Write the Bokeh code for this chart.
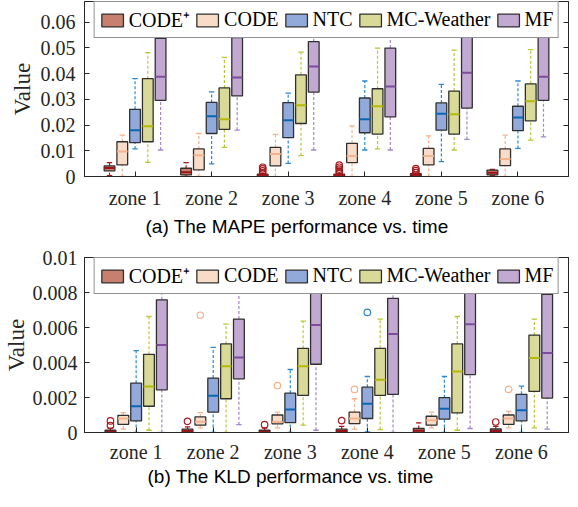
from bokeh.plotting import figure
from bokeh.models import (ColumnDataSource, FixedTicker, LinearAxis, Legend,
                          LegendItem, Range1d, Title)
from bokeh.layouts import column
from bokeh.embed import file_html
from bokeh.resources import INLINE

# ---------------- data ----------------
methods = ["CODE\u207A", "CODE", "NTC", "MC-Weather", "MF"]
zones = [1, 2, 3, 4, 5, 6]
zone_labels = ["zone 1", "zone 2", "zone 3", "zone 4", "zone 5", "zone 6"]

# (a) MAPE  -- rows: CODE+, CODE, NTC, MC-Weather, MF ; columns: zone 1..6
mape_lo = [[0.0003, 0.0, 0.0, 0.0, 0.0, 0.0004],
           [0.0, 0.0, 0.0, 0.0, 0.0, 0.0],
           [0.0107, 0.0049, 0.0051, 0.0103, 0.0058, 0.0109],
           [0.0055, 0.0113, 0.0081, 0.0107, 0.0103, 0.0141],
           [0.0103, 0.0180, 0.0103, 0.0103, 0.0144, 0.0154]]
mape_q1 = [[0.0022, 0.0006, 0.0003, 0.0003, 0.0003, 0.0006],
           [0.0045, 0.0026, 0.0041, 0.0054, 0.0045, 0.0042],
           [0.0132, 0.0167, 0.0151, 0.0170, 0.0180, 0.0178],
           [0.0135, 0.0183, 0.0206, 0.0165, 0.0165, 0.0216],
           [0.0296, 0.0313, 0.0328, 0.0232, 0.0266, 0.0296]]
mape_med = [[0.0033, 0.0017, 0.0006, 0.0006, 0.0008, 0.0015],
            [0.0097, 0.0083, 0.0087, 0.0080, 0.0080, 0.0068],
            [0.0180, 0.0234, 0.0219, 0.0222, 0.0244, 0.0229],
            [0.0195, 0.0222, 0.0277, 0.0273, 0.0242, 0.0292],
            [0.0388, 0.0385, 0.0427, 0.0350, 0.0403, 0.0388]]
mape_q3 = [[0.0041, 0.0032, 0.0009, 0.0009, 0.0011, 0.0025],
           [0.0135, 0.0107, 0.0113, 0.0129, 0.0109, 0.0107],
           [0.0261, 0.0288, 0.0287, 0.0305, 0.0286, 0.0273],
           [0.0380, 0.0344, 0.0395, 0.0341, 0.0332, 0.0360],
           [0.0537, 0.0540, 0.0524, 0.0499, 0.0547, 0.0547]]
mape_hi = [[0.0054, 0.0054, 0.0012, 0.0012, 0.0014, 0.0028],
           [0.0161, 0.0167, 0.0164, 0.0197, 0.0158, 0.0161],
           [0.0380, 0.0329, 0.0324, 0.0371, 0.0358, 0.0371],
           [0.0481, 0.0463, 0.0483, 0.0499, 0.0491, 0.0493],
           [0.0640, 0.0630, 0.0620, 0.0630, 0.0640, 0.0630]]
mape_out_method = [0, 0, 0, 0, 0, 0, 0, 0, 0, 0, 0, 0]
mape_out_zone = [3, 3, 3, 3, 4, 4, 4, 4, 4, 5, 5, 5]
mape_out_value = [0.0014, 0.0022, 0.0030, 0.0036,
                  0.0014, 0.0021, 0.0029, 0.0036, 0.0044,
                  0.0015, 0.0023, 0.0031]
mape_yticks = [0, 0.01, 0.02, 0.03, 0.04, 0.05, 0.06]
mape_ytick_labels = ["0", "0.01", "0.02", "0.03", "0.04", "0.05", "0.06"]
mape_ymax = 0.068

# (b) KLD
kld_lo = [[0.0, 0.0, 0.0, 0.0, 0.0, 0.0],
          [0.00019, 0.00027, 0.00027, 0.00019, 0.00027, 0.00027],
          [0.0, 0.0, 0.0, 0.00004, 0.0, 0.0],
          [0.00013, 0.0, 0.00042, 0.00017, 0.00013, 0.00027],
          [0.0, 0.00045, 0.00013, 0.0, 0.00023, 0.00019]]
kld_q1 = [[0.0, 0.0, 0.0, 0.0, 0.0, 0.0],
          [0.00047, 0.00042, 0.00049, 0.00051, 0.00042, 0.00047],
          [0.00066, 0.00117, 0.00057, 0.00080, 0.00076, 0.00066],
          [0.00150, 0.00193, 0.00212, 0.00212, 0.00112, 0.00235],
          [0.00244, 0.00307, 0.00390, 0.00218, 0.00331, 0.00197]]
kld_med = [[0.00004, 0.00008, 0.00005, 0.00008, 0.00010, 0.00008],
           [0.00080, 0.00061, 0.00060, 0.00080, 0.00070, 0.00080],
           [0.00150, 0.00210, 0.00131, 0.00165, 0.00136, 0.00127],
           [0.00263, 0.00379, 0.00379, 0.00301, 0.00348, 0.00426],
           [0.00500, 0.00428, 0.00614, 0.00563, 0.00619, 0.00455]]
kld_q3 = [[0.00013, 0.00019, 0.00013, 0.00019, 0.00023, 0.00020],
          [0.00098, 0.00089, 0.00100, 0.00117, 0.00093, 0.00100],
          [0.00282, 0.00311, 0.00225, 0.00259, 0.00199, 0.00218],
          [0.00447, 0.00506, 0.00481, 0.00481, 0.00506, 0.00557],
          [0.00758, 0.00648, 0.00813, 0.00767, 0.00828, 0.00790]]
kld_hi = [[0.00025, 0.00032, 0.00025, 0.00035, 0.00055, 0.00035],
          [0.00114, 0.00114, 0.00117, 0.00193, 0.00117, 0.00121],
          [0.00468, 0.00487, 0.00360, 0.00320, 0.00320, 0.00265],
          [0.00663, 0.00619, 0.00636, 0.00648, 0.00663, 0.00648],
          [0.00960, 0.00920, 0.00990, 0.00970, 0.00990, 0.00980]]
kld_out_method = [0, 0, 0, 0, 0, 0, 1, 1, 1, 1, 1, 2]
kld_out_zone = [1, 1, 2, 3, 4, 6, 2, 3, 4, 6, 6, 4]
kld_out_value = [0.00040, 0.00066, 0.00064, 0.00045, 0.00068, 0.00060,
                 0.00670, 0.00268, 0.00246, 0.00246, 0.00828, 0.00686]
kld_yticks = [0, 0.002, 0.004, 0.006, 0.008, 0.01]
kld_ytick_labels = ["0", "0.002", "0.004", "0.006", "0.008", "0.01"]
kld_ymax = 0.01

# ---------------- style ----------------
fill_colors = ["#C8806E", "#F8DCC8", "#92AADB", "#D9DA97", "#C1A9D2"]
median_colors = ["#9A1418", "#F2B48E", "#0B66B2", "#B4B90A", "#7B4D9B"]
whisker_colors = ["#A8181D", "#F4B28C", "#2C8AD2", "#B9C83A", "#A487C6"]
offsets = [-1 / 3, -1 / 6, 0.0, 1 / 6, 1 / 3]
BOX_W = 0.14
CAP_W = 0.07
AX = "#262626"
SERIF = "Liberation Serif"


def make_fig(lo, q1, med, q3, hi, om, oz, ov, yticks, ylabels, ymax,
             xr, caption, frame_h, b_left, b_right, b_top, b_bottom,
             tick_standoff, ylab_standoff, x_standoff,
             cap_offset, cap_standoff):
    p = figure(width=570, frame_height=frame_h, x_range=Range1d(*xr),
               y_range=Range1d(0, ymax), output_backend="svg",
               toolbar_location=None, min_border_left=b_left,
               min_border_right=b_right, min_border_top=b_top,
               min_border_bottom=b_bottom)
    p.xgrid.visible = False
    p.ygrid.visible = False
    p.outline_line_color = AX
    p.outline_line_width = 1
    p.background_fill_color = "white"
    p.border_fill_color = "white"

    # axes
    p.xaxis.ticker = FixedTicker(ticks=zones)
    p.xaxis.major_label_overrides = {z: lab for z, lab in zip(zones, zone_labels)}
    p.yaxis.ticker = FixedTicker(ticks=yticks)
    p.yaxis.major_label_overrides = {t: lab for t, lab in zip(yticks, ylabels)}
    for ax in (p.xaxis[0], p.yaxis[0]):
        ax.major_tick_in = 5
        ax.major_tick_out = 0
        ax.minor_tick_line_color = None
        ax.axis_line_color = AX
        ax.major_tick_line_color = AX
        ax.major_label_text_font = SERIF
        ax.major_label_text_font_size = "20px"
        ax.major_label_text_color = AX
    p.xaxis.major_label_standoff = x_standoff
    p.yaxis.major_label_standoff = tick_standoff
    p.yaxis.axis_label = "Value"
    p.yaxis.axis_label_text_font = SERIF
    p.yaxis.axis_label_text_font_size = "23px"
    p.yaxis.axis_label_text_font_style = "normal"
    p.yaxis.axis_label_text_color = AX
    p.yaxis.axis_label_standoff = ylab_standoff

    ra = LinearAxis(ticker=FixedTicker(ticks=yticks), major_tick_in=5,
                    major_tick_out=0, major_label_standoff=0,
                    major_label_text_font_size="1px",
                    major_label_text_color=None,
                    minor_tick_line_color=None, axis_line_color=AX,
                    major_tick_line_color=AX)
    p.add_layout(ra, "right")

    renderers = []
    for m in range(len(methods)):
        xs = [z + offsets[m] for z in zones]
        src = ColumnDataSource(dict(
            x=xs,
            left=[x - BOX_W / 2 for x in xs], right=[x + BOX_W / 2 for x in xs],
            cl=[x - CAP_W / 2 for x in xs], cr=[x + CAP_W / 2 for x in xs],
            lo=lo[m], q1=q1[m], med=med[m], q3=q3[m], hi=hi[m]))
        wc = whisker_colors[m]
        p.segment("x", "q3", "x", "hi", source=src, line_color=wc,
                  line_width=1.2, line_dash="3 2")
        p.segment("x", "lo", "x", "q1", source=src, line_color=wc,
                  line_width=1.2, line_dash="3 2")
        p.segment("cl", "hi", "cr", "hi", source=src, line_color=wc, line_width=1.3)
        p.segment("cl", "lo", "cr", "lo", source=src, line_color=wc, line_width=1.3)
        r = p.quad(left="left", right="right", bottom="q1", top="q3", source=src,
                   fill_color=fill_colors[m], line_color="#303030", line_width=1.3)
        p.segment("left", "med", "right", "med", source=src,
                  line_color=median_colors[m], line_width=2)
        renderers.append(r)

    osrc = ColumnDataSource(dict(
        x=[z + offsets[mm] for mm, z in zip(om, oz)], y=ov,
        c=[whisker_colors[mm] for mm in om]))
    p.scatter("x", "y", source=osrc, marker="circle", size=6.5,
              fill_color=None, line_color="c", line_width=1.2)

    legend = Legend(items=[LegendItem(label=methods[m], renderers=[renderers[m]])
                           for m in range(len(methods))],
                    orientation="horizontal", location="top_center", margin=0,
                    padding=4, spacing=4, label_standoff=3, glyph_width=27,
                    glyph_height=16, label_text_font=SERIF,
                    label_text_font_size="20px", label_text_color="black",
                    border_line_color=AX, border_line_width=1,
                    background_fill_color="white", background_fill_alpha=1)
    p.add_layout(legend, "center")

    cap = Title(text=caption, align="left", offset=cap_offset,
                vertical_align="top", standoff=cap_standoff,
                text_font="Liberation Sans", text_font_size="19px",
                text_font_style="normal", text_color="black")
    p.add_layout(cap, "below")
    return p


p1 = make_fig(mape_lo, mape_q1, mape_med, mape_q3, mape_hi,
              mape_out_method, mape_out_zone, mape_out_value,
              mape_yticks, mape_ytick_labels, mape_ymax, (0.34, 6.66),
              "(a) The MAPE performance vs. time", 175, 74, 2, 1, 69,
              9, 3, 10, 61, 8)
p2 = make_fig(kld_lo, kld_q1, kld_med, kld_q3, kld_hi,
              kld_out_method, kld_out_zone, kld_out_value,
              kld_yticks, kld_ytick_labels, kld_ymax, (0.33, 6.61),
              "(b) The KLD performance vs. time", 175, 79, 1, 12, 59,
              7, 1, 8, 63, 0)

layout = column(p1, p2, spacing=0)
open("out.html", "w").write(file_html(layout, INLINE))
